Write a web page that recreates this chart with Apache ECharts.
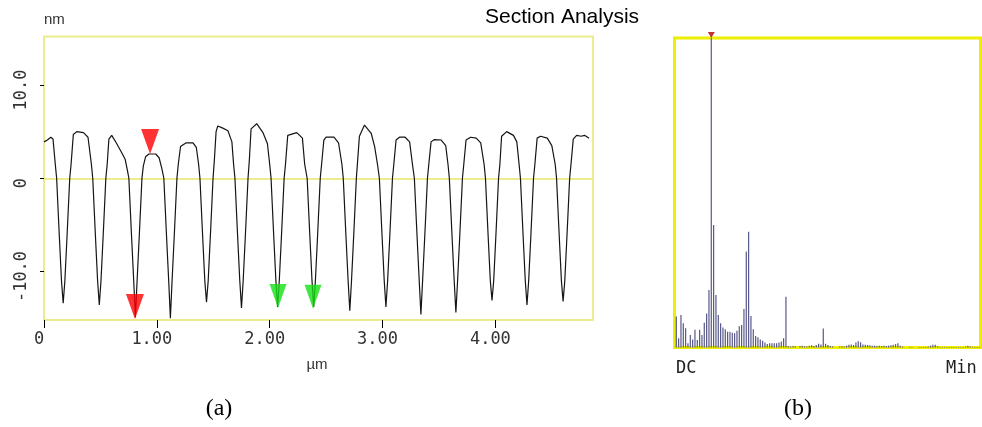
<!DOCTYPE html>
<html>
<head>
<meta charset="utf-8">
<script src="https://cdn.jsdelivr.net/npm/echarts@6/dist/echarts.min.js"></script>
<style>
html,body{margin:0;padding:0;background:#fff;}
#c{width:982px;height:427px;}
</style>
</head>
<body>
<div id="c"></div>
<script>
// ---- (a) section profile (position in µm, height in nm) ----
const profileX = [
0.00,0.03,0.06,0.08,0.10,0.112,
0.135,0.155,0.17,0.185,0.205,0.228,0.24,
0.26,0.29,0.35,0.39,0.42,0.432,
0.455,0.475,0.49,0.505,0.525,0.548,0.56,
0.575,0.60,0.64,0.69,0.72,0.74,0.752,
0.775,0.795,0.81,0.825,0.845,0.868,0.88,
0.90,0.93,0.99,1.02,1.045,1.062,
1.085,1.105,1.12,1.135,1.155,1.178,1.19,
1.21,1.26,1.32,1.35,1.37,1.382,
1.405,1.425,1.44,1.455,1.475,1.498,1.51,
1.525,1.54,1.58,1.63,1.665,1.68,1.692,
1.715,1.735,1.75,1.765,1.785,1.808,1.82,
1.835,1.885,1.94,1.98,2.00,2.012,
2.035,2.055,2.07,2.085,2.105,2.128,2.14,
2.16,2.24,2.29,2.31,2.332,
2.355,2.375,2.39,2.405,2.425,2.448,2.46,
2.48,2.50,2.57,2.61,2.64,2.652,
2.675,2.695,2.71,2.725,2.745,2.768,2.78,
2.795,2.84,2.90,2.93,2.955,2.972,
2.995,3.015,3.03,3.045,3.065,3.088,3.10,
3.12,3.15,3.20,3.24,3.265,3.282,
3.305,3.325,3.34,3.355,3.375,3.398,3.41,
3.43,3.46,3.52,3.56,3.58,3.592,
3.615,3.635,3.65,3.665,3.685,3.708,3.72,
3.74,3.78,3.83,3.87,3.90,3.912,
3.935,3.955,3.97,3.985,4.005,4.028,4.04,
4.055,4.10,4.16,4.19,4.21,4.222,
4.245,4.265,4.28,4.295,4.315,4.338,4.35,
4.37,4.40,4.46,4.50,4.53,4.542,
4.565,4.585,4.60,4.615,4.635,4.658,4.67,
4.69,4.72,4.76,4.79,4.83
];
const profileY = [
3.9,4.1,4.4,4.2,1.5,0,
-6,-11,-13.4,-11,-6,0,1.5,
4.7,5.0,4.9,4.4,1.5,0,
-6,-11,-13.6,-11,-6,0,1.5,
4.2,4.6,3.8,2.7,2.0,0.8,0,
-6,-11,-14.9,-11,-6,0,1.3,
2.3,2.6,2.6,2.2,1.0,0,
-6,-11,-15.0,-11,-6,0,1.5,
3.4,3.8,3.8,3.3,1.5,0,
-6,-11,-13.3,-11,-6,0,2.0,
5.0,5.6,5.4,5.1,3.9,1.5,0,
-6,-11,-13.9,-11,-6,0,2.0,
5.3,5.85,4.9,3.7,1.5,0,
-6,-11,-13.8,-11,-6,0,1.5,
4.6,4.9,4.3,1.5,0,
-6,-11,-13.8,-11,-6,0,1.5,
4.1,4.4,4.4,3.8,1.5,0,
-6,-11,-14.2,-11,-6,0,2.0,
4.5,5.7,4.8,3.4,1.5,0,
-6,-11,-13.8,-11,-6,0,1.5,
4.1,4.4,4.4,3.9,1.5,0,
-6,-11,-14.6,-11,-6,0,1.5,
3.9,4.15,4.1,3.5,1.5,0,
-6,-11,-14.4,-11,-6,0,1.5,
4.1,4.4,4.3,3.8,1.5,0,
-6,-11,-13.1,-11,-6,0,1.5,
4.5,5.0,4.6,3.9,1.5,0,
-6,-11,-13.6,-11,-6,0,1.5,
4.3,4.5,4.3,3.5,1.5,0,
-6,-11,-13.2,-11,-6,0,1.5,
4.2,4.6,4.5,4.6,4.3
];
// cursor markers
const redMarkX = [0.94, 0.806];
const redMarkY = [2.6, -15.08];
const greenMarkX = [2.074, 2.384];
const greenMarkY = [-13.9, -14.0];
// tick values
const xTicks = [0, 1, 2, 3, 4];
const yTicks = [-10, 0, 10];

// ---- (b) spectrum (bin index from DC, relative magnitude) ----
const specValues = [
10.0,3.0,10.5,7.8,6.2,1.4,4.0,2.6,5.7,2.4,
5.7,4.0,8.0,11.0,18.6,100,39.6,17.0,10.5,7.8,
6.5,5.9,5.1,5.1,4.8,4.6,5.4,6.9,7.3,12.4,
31.0,37.4,10.2,5.9,3.7,3.3,2.6,2.2,1.6,1.1,
1.4,1.4,1.4,1.4,1.6,1.9,3.0,16.4,0.5,0.3,
0.5,0.4,0,0.5,0.6,0.4,0.3,0.6,0.7,0.5,
0.8,1.2,1.0,6.1,1.2,0.8,0.5,0.4,0,0,
0.3,0.4,0.3,0.6,0.9,1.0,0.8,1.6,2.0,1.7,
1.0,0.9,0.8,0.7,0.6,0.6,0.5,0.6,0.5,0.6,
0.5,0.6,0.7,0.9,1.1,1.4,0.6,0.3,0,0,
0.2,0.2,0,0,0.2,0.2,0.2,0.2,0.3,0.6,
0.9,0.9,0.4,0.2,0.2,0.2,0.2,0.2,0.2,0.2,
0.2,0.2,0.2,0.2,0.3,0.6,0.3,0.2,0.2,0.2,
0.2
];
const specPeakIndex = 15;

const chart = echarts.init(document.getElementById('c'), null, {renderer: 'canvas'});
const mono = '"DejaVu Sans Mono", monospace';
const frameA = '#ecec8c';

const option = {
  animation: false,
  backgroundColor: '#ffffff',
  grid: [
    {left: 44, top: 36.5, width: 549, height: 283.5, show: true, borderColor: frameA, borderWidth: 2, backgroundColor: 'transparent'},
    {left: 674.5, top: 38, width: 306, height: 309.5, show: true, borderColor: '#eeee00', borderWidth: 3, backgroundColor: 'transparent'}
  ],
  xAxis: [
    {type: 'value', gridIndex: 0, min: 0, max: 4.865, position: 'bottom',
     splitLine: {show: false}, axisLine: {show: false, onZero: false},
     axisTick: {show: true, length: 8, customValues: xTicks, lineStyle: {color: '#000', width: 1}},
     axisLabel: {customValues: xTicks, formatter: v => v === 0 ? '0' : v.toFixed(2),
       fontFamily: mono, fontSize: 17, color: '#333', margin: 11, padding: [0, 10, 0, 0]}},
    {type: 'value', gridIndex: 1, min: -0.77, max: 130.4, show: false}
  ],
  yAxis: [
    {type: 'value', gridIndex: 0, min: -15.2, max: 15.2, position: 'left',
     splitLine: {show: false}, axisLine: {show: false, onZero: false},
     axisTick: {show: true, length: 4, customValues: yTicks, lineStyle: {color: '#000', width: 1}},
     axisLabel: {customValues: yTicks, rotate: 90, formatter: v => v === 0 ? '0' : v.toFixed(1),
       fontFamily: mono, fontSize: 17, color: '#333', margin: 14, padding: [0, 10, 0, 0]}},
    {type: 'value', gridIndex: 1, min: 0, max: 100, show: false}
  ],
  series: [
    {type: 'line', xAxisIndex: 0, yAxisIndex: 0, z: 3,
     data: profileX.map((x, i) => [x, profileY[i]]),
     showSymbol: false, symbol: 'none',
     lineStyle: {color: '#151515', width: 1.2},
     markLine: {silent: true, symbol: 'none', z: 1, label: {show: false},
       lineStyle: {color: frameA, width: 2, type: 'solid'}, data: [{yAxis: 0}]}},
    {type: 'scatter', xAxisIndex: 0, yAxisIndex: 0, z: 5,
     data: redMarkX.map((x, i) => [x, redMarkY[i]]),
     symbol: 'triangle', symbolRotate: 180, symbolSize: [18, 25], symbolOffset: [0, -12.5],
     itemStyle: {color: '#ff0000'}},
    {type: 'scatter', xAxisIndex: 0, yAxisIndex: 0, z: 5,
     data: greenMarkX.map((x, i) => [x, greenMarkY[i]]),
     symbol: 'triangle', symbolRotate: 180, symbolSize: [17, 24], symbolOffset: [0, -12],
     itemStyle: {color: '#14e014'}},
    {type: 'bar', xAxisIndex: 1, yAxisIndex: 1, z: 3,
     data: specValues.map((v, k) => [k, v]),
     barWidth: 1.2, itemStyle: {color: '#585888'}},
    {type: 'scatter', xAxisIndex: 1, yAxisIndex: 1, z: 6, clip: false,
     data: [[specPeakIndex, specValues[specPeakIndex]]],
     symbol: 'triangle', symbolRotate: 180, symbolSize: [7, 6], symbolOffset: [0, -3],
     itemStyle: {color: '#b00000'}}
  ],
  graphic: [
    {type: 'text', x: 44, y: 20, style: {text: 'nm', font: '15px "Liberation Sans"', fill: '#333', verticalAlign: 'middle'}},
    {type: 'text', x: 485, y: 17, style: {text: 'Section Analysis', font: '21px "Liberation Sans"', fill: '#000', verticalAlign: 'middle'}},
    {type: 'text', x: 317, y: 365, style: {text: 'µm', font: '15px "Liberation Sans"', fill: '#333', align: 'center', verticalAlign: 'middle'}},
    {type: 'text', x: 676, y: 369, style: {text: 'DC', font: '17px ' + mono, fill: '#222', verticalAlign: 'middle'}},
    {type: 'text', x: 946, y: 369, style: {text: 'Min', font: '17px ' + mono, fill: '#222', verticalAlign: 'middle'}},
    {type: 'text', x: 219, y: 409, style: {text: '(a)', font: '24px "Liberation Serif"', fill: '#000', align: 'center', verticalAlign: 'middle'}},
    {type: 'text', x: 798, y: 409, style: {text: '(b)', font: '24px "Liberation Serif"', fill: '#000', align: 'center', verticalAlign: 'middle'}}
  ]
};
chart.setOption(option);
</script>
</body>
</html>
